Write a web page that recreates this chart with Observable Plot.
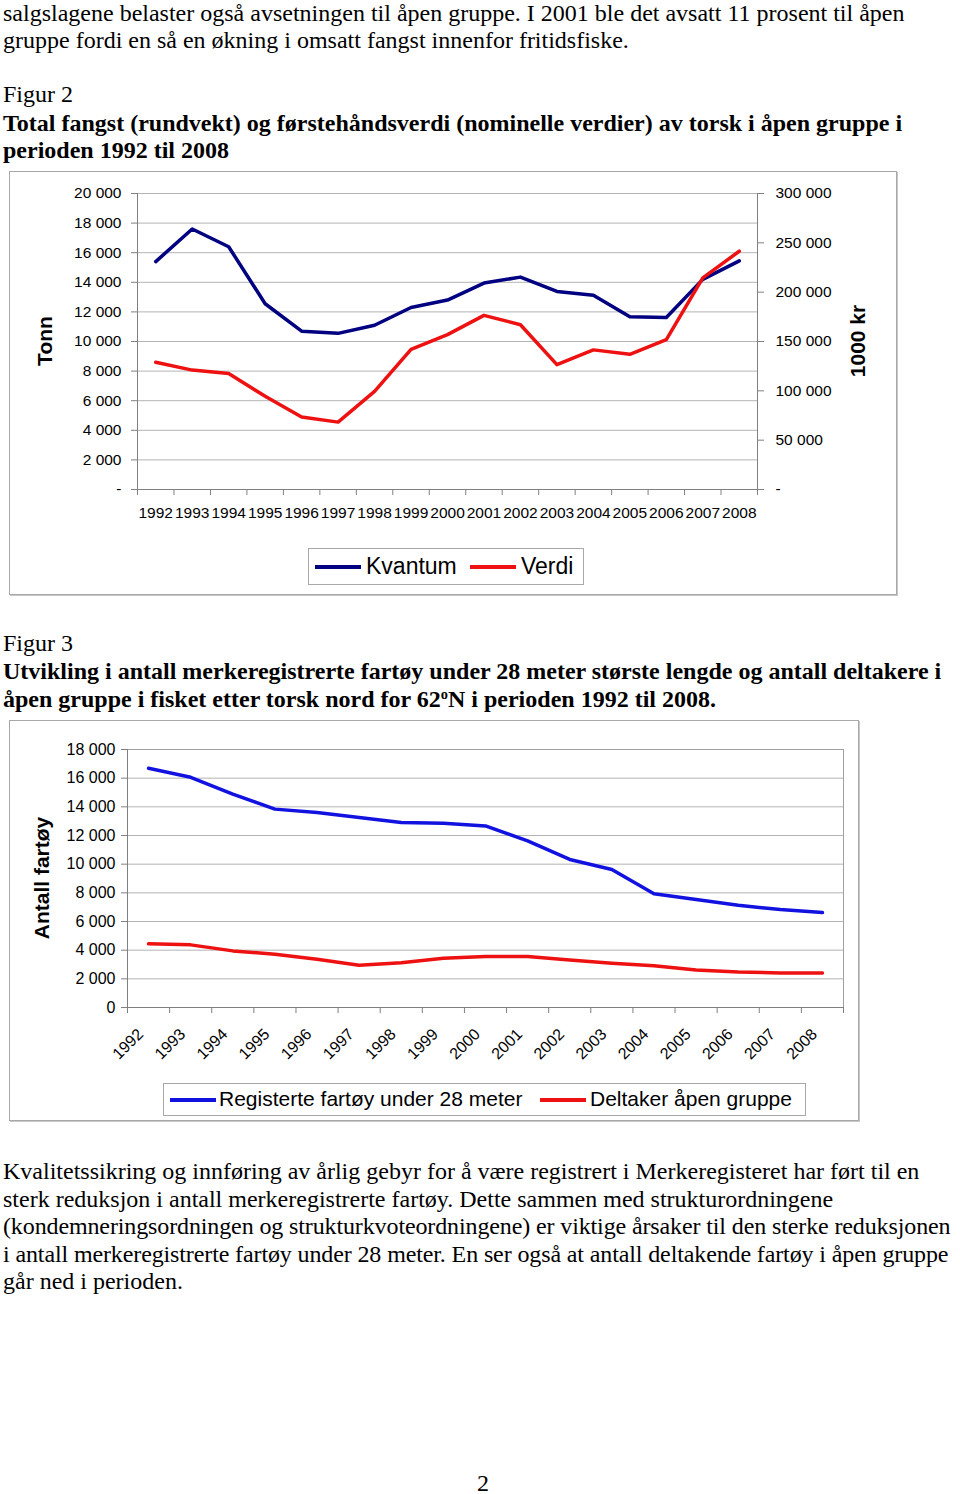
<!DOCTYPE html>
<html>
<head>
<meta charset="utf-8">
<script src="https://cdn.jsdelivr.net/npm/d3@7"></script>
<script src="https://cdn.jsdelivr.net/npm/@observablehq/plot@0.6"></script>
<style>
  html, body { margin: 0; padding: 0; background: #fff; }
  body { position: relative; width: 960px; height: 1494px; overflow: hidden; }
  .t { position: absolute; left: 3px; white-space: nowrap; font-family: "Liberation Serif", "Times New Roman", serif; font-size: 24px; line-height: 28px; color: #000; }
  .b { font-weight: bold; }
  .tight { letter-spacing: -0.12px; }
  .frame { position: absolute; border: 1px solid #a8a8a8; box-shadow: 1px 1px 0 #c8c8c8; background: #fff; }
  .abs { position: absolute; }
  .vlab { position: absolute; font-family: "Liberation Sans", Arial, sans-serif; font-weight: bold; font-size: 21px; white-space: nowrap; transform: translate(-50%, -50%) rotate(-90deg); }
  .legend { position: absolute; border: 1px solid #a8a8a8; background: #fff; font-family: "Liberation Sans", Arial, sans-serif; }
  .sw { position: absolute; height: 4px; }
  .lt { position: absolute; white-space: nowrap; }
  sup { font-size: 60%; vertical-align: 0.55em; line-height: 0; }
</style>
</head>
<body>
<div class="t" style="top:-1px">salgslagene belaster også avsetningen til åpen gruppe. I 2001 ble det avsatt 11 prosent til åpen</div>
<div class="t" style="top:26px">gruppe fordi en så en økning i omsatt fangst innenfor fritidsfiske.</div>
<div class="t" style="top:80px">Figur 2</div>
<div class="t b" style="top:109px">Total fangst (rundvekt) og førstehåndsverdi (nominelle verdier) av torsk i åpen gruppe i</div>
<div class="t b" style="top:136px">perioden 1992 til 2008</div>

<div class="frame" style="left:9px; top:171px; width:886px; height:422px;"></div>
<div id="chart1" class="abs" style="left:0; top:171px;"></div>
<div class="vlab" style="left:45px; top:341px;">Tonn</div>
<div class="vlab" style="left:858px; top:341px;">1000 kr</div>
<div class="legend" style="left:308px; top:548px; width:274px; height:35px;">
  <div class="sw" style="left:6px; top:16px; width:46px; background:#000080;"></div>
  <div class="lt" style="left:57px; top:4px; font-size:23px;">Kvantum</div>
  <div class="sw" style="left:161px; top:16px; width:46px; background:#ee1111;"></div>
  <div class="lt" style="left:212px; top:4px; font-size:23px;">Verdi</div>
</div>

<div class="t" style="top:629px">Figur 3</div>
<div class="t b" style="top:657px">Utvikling i antall merkeregistrerte fartøy under 28 meter største lengde og antall deltakere i</div>
<div class="t b" style="top:685px">åpen gruppe i fisket etter torsk nord for 62<sup>o</sup>N i perioden 1992 til 2008.</div>

<div class="frame" style="left:9px; top:720px; width:848px; height:399px;"></div>
<div id="chart2" class="abs" style="left:0; top:720px;"></div>
<div class="vlab" style="left:42px; top:878px;">Antall fartøy</div>
<div class="legend" style="left:163px; top:1083px; width:641px; height:31px;">
  <div class="sw" style="left:6px; top:14px; width:46px; background:#1212e0;"></div>
  <div class="lt" style="left:55px; top:3px; font-size:21px;">Registerte fartøy under 28 meter</div>
  <div class="sw" style="left:376px; top:14px; width:46px; background:#ee1111;"></div>
  <div class="lt" style="left:426px; top:3px; font-size:21px;">Deltaker åpen gruppe</div>
</div>

<div class="t" style="top:1157px">Kvalitetssikring og innføring av årlig gebyr for å være registrert i Merkeregisteret har ført til en</div>
<div class="t" style="top:1185px">sterk reduksjon i antall merkeregistrerte fartøy. Dette sammen med strukturordningene</div>
<div class="t tight" style="top:1212px">(kondemneringsordningen og strukturkvoteordningene) er viktige årsaker til den sterke reduksjonen</div>
<div class="t tight" style="top:1240px">i antall merkeregistrerte fartøy under 28 meter. En ser også at antall deltakende fartøy i åpen gruppe</div>
<div class="t" style="top:1267px">går ned i perioden.</div>
<div class="t" style="top:1473px; left:477px; line-height:20px;">2</div>

<script>
// ---- data ----
const years = [1992, 1993, 1994, 1995, 1996, 1997, 1998, 1999, 2000, 2001, 2002, 2003, 2004, 2005, 2006, 2007, 2008];
// Figur 2: Kvantum (tonn, left axis) and Verdi (1000 kr, right axis)
const kvantum = [15400, 17600, 16400, 12550, 10700, 10550, 11100, 12300, 12800, 13950, 14350, 13380, 13130, 11670, 11620, 14200, 15450];
const verdi = [129000, 121000, 117500, 94500, 73500, 68300, 99500, 142000, 157000, 176500, 167000, 126500, 141500, 137000, 152000, 214500, 241500];
// Figur 3: registered vessels under 28 m and participants in open group
const registrerte = [16690, 16060, 14890, 13840, 13600, 13250, 12900, 12860, 12670, 11620, 10330, 9630, 7930, 7530, 7130, 6830, 6620];
const deltaker = [4440, 4370, 3950, 3720, 3370, 2950, 3130, 3440, 3550, 3550, 3320, 3090, 2920, 2620, 2480, 2410, 2410];
// tick values
const leftTicks1 = [0, 2000, 4000, 6000, 8000, 10000, 12000, 14000, 16000, 18000, 20000];
const rightTicks1 = [0, 50000, 100000, 150000, 200000, 250000, 300000];
const ticks2 = [0, 2000, 4000, 6000, 8000, 10000, 12000, 14000, 16000, 18000];

const fmt = d3.formatLocale({thousands: " ", grouping: [3], decimal: ","}).format(",");
const ratio = 300000 / 20000;
const bounds = d3.range(years.length + 1).map(i => years[0] - 0.5 + i);

const data1 = years.map((y, i) => ({year: y, kvantum: kvantum[i], verdi: verdi[i]}));
const data2 = years.map((y, i) => ({year: y, reg: registrerte[i], del: deltaker[i]}));

const chart1 = Plot.plot({
  width: 900, height: 358,
  marginLeft: 137, marginRight: 143, marginTop: 22, marginBottom: 40,
  x: {type: "linear", domain: [1991.5, 2008.5]},
  y: {domain: [0, 20000]},
  style: {fontFamily: "'Liberation Sans', Arial, sans-serif", fontSize: "15.5px", color: "#000", background: "transparent", overflow: "visible"},
  marks: [
    Plot.gridY(leftTicks1.slice(1), {stroke: "#b4b4b4", strokeOpacity: 1}),
    Plot.axisY(leftTicks1, {anchor: "left", tickFormat: d => d === 0 ? "-" : fmt(d), tickSize: 6, tickPadding: 10, stroke: "#808080", label: null}),
    Plot.axisY(rightTicks1.map(v => v / ratio), {anchor: "right", tickFormat: d => d === 0 ? "-" : fmt(Math.round(d * ratio)), tickSize: 6, tickPadding: 12, stroke: "#808080", label: null}),
    Plot.axisX(bounds, {anchor: "bottom", tickFormat: () => "", tickSize: 6, stroke: "#808080", label: null}),
    Plot.axisX(years, {anchor: "bottom", tickFormat: d => String(d), tickSize: 0, tickPadding: 17, label: null}),
    Plot.ruleX([1991.5, 2008.5], {stroke: "#808080"}),
    Plot.ruleY([0], {stroke: "#808080"}),
    Plot.lineY(data1, {x: "year", y: "kvantum", stroke: "#000080", strokeWidth: 3.5}),
    Plot.lineY(data1, {x: "year", y: d => d.verdi / ratio, stroke: "#ee1111", strokeWidth: 3.5})
  ]
});
document.getElementById("chart1").appendChild(chart1);

const chart2 = Plot.plot({
  width: 860, height: 352,
  marginLeft: 127, marginRight: 17, marginTop: 29, marginBottom: 65,
  x: {type: "linear", domain: [1991.5, 2008.5]},
  y: {domain: [0, 18000]},
  style: {fontFamily: "'Liberation Sans', Arial, sans-serif", fontSize: "16px", color: "#000", background: "transparent", overflow: "visible"},
  marks: [
    Plot.gridY(ticks2.slice(1), {stroke: "#b4b4b4", strokeOpacity: 1}),
    Plot.frame({stroke: "#a0a0a0"}),
    Plot.axisY(ticks2, {anchor: "left", tickFormat: d => fmt(d), tickSize: 6, tickPadding: 6, stroke: "#808080", label: null}),
    Plot.axisX(bounds, {anchor: "bottom", tickFormat: () => "", tickSize: 6, stroke: "#808080", label: null}),
    Plot.axisX(years, {anchor: "bottom", tickFormat: d => String(d), tickSize: 0, tickPadding: 16, tickRotate: -45, dx: -8, dy: 8, label: null}),
    Plot.ruleX([1991.5], {stroke: "#808080"}),
    Plot.ruleY([0], {stroke: "#808080"}),
    Plot.lineY(data2, {x: "year", y: "reg", stroke: "#1212e0", strokeWidth: 3.5}),
    Plot.lineY(data2, {x: "year", y: "del", stroke: "#ee1111", strokeWidth: 3.5})
  ]
});
document.getElementById("chart2").appendChild(chart2);
</script>
</body>
</html>
